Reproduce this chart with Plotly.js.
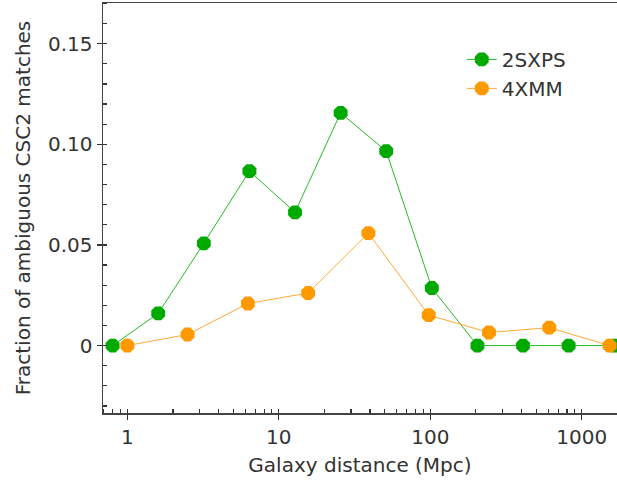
<!DOCTYPE html>
<html>
<head>
<meta charset="utf-8">
<script src="https://cdn.plot.ly/plotly-3.0.1.min.js"></script>
<style>html,body{margin:0;padding:0;background:#fff;}#chart{width:617px;height:483px;}</style>
</head>
<body>
<div id="chart"></div>
<script>
// Data
const sxpsDistance = [0.8, 1.6, 3.2, 6.4, 12.8, 25.6, 51.2, 102.4, 204.8, 409.6, 819.2, 1638.4];
const sxpsFraction = [0.0, 0.016, 0.0508, 0.0867, 0.0662, 0.1156, 0.0966, 0.0286, 0.0, 0.0, 0.0, 0.0];
const xmmDistance = [1.0, 2.5, 6.25, 15.625, 39.06, 97.66, 244.1, 610.4, 1525.9];
const xmmFraction = [0.0, 0.0055, 0.0209, 0.0261, 0.0559, 0.0151, 0.0065, 0.0089, 0.0];
const seriesNames = ['2SXPS', '4XMM'];
const xTickVals = [1, 10, 100, 1000];
const xTickText = ['1', '10', '100', '1000'];
const yTickVals = [0, 0.05, 0.10, 0.15];
const yTickText = ['0', '0.05', '0.10', '0.15'];

const FONT = 'DejaVu Sans, sans-serif';
const FS = 20;
const traces = [
  {
    x: sxpsDistance, y: sxpsFraction, name: seriesNames[0], type: 'scatter', mode: 'lines+markers',
    legendgroup: 'a',
    line: {color: '#22bb22', width: 1},
    marker: {color: '#00aa00', size: 15, symbol: 'octagon', line: {width: 0}}
  },
  {
    x: xmmDistance, y: xmmFraction, name: seriesNames[1], type: 'scatter', mode: 'lines+markers',
    legendgroup: 'b',
    line: {color: '#ffaa33', width: 1},
    marker: {color: '#ff9900', size: 15, symbol: 'octagon', line: {width: 0}}
  }
];

const layout = {
  width: 617, height: 483,
  margin: {l: 103, r: 0, t: 3, b: 70},
  paper_bgcolor: '#fff', plot_bgcolor: '#fff',
  font: {family: FONT, size: FS, color: '#333'},
  showlegend: true,
  legend: {
    x: 0.698, y: 0.91, xanchor: 'left', yanchor: 'top',
    bgcolor: 'rgba(0,0,0,0)', font: {family: FONT, size: FS, color: '#333'},
    traceorder: 'grouped', tracegroupgap: 0
  },
  xaxis: {
    type: 'log',
    range: [-0.1604, 3.2326],
    tickvals: xTickVals, ticktext: xTickText,
    ticks: 'outside', ticklen: 5, tickwidth: 1.2, tickcolor: '#333',
    minor: {ticks: 'inside', ticklen: 4, tickcolor: '#333', dtick: 'D1', showgrid: false},
    showline: true, linecolor: '#444', linewidth: 1.5, mirror: true,
    showgrid: false, zeroline: false,
    tickfont: {family: FONT, size: FS, color: '#333'},
    title: {text: 'Galaxy distance (Mpc)', font: {family: FONT, size: FS, color: '#333'}, standoff: 10}
  },
  yaxis: {
    range: [-0.0335, 0.1702],
    tickvals: yTickVals, ticktext: yTickText,
    ticks: 'outside', ticklen: 5, tickwidth: 1.2, tickcolor: '#333',
    minor: {ticks: 'inside', ticklen: 4, tickcolor: '#333', dtick: 0.01, showgrid: false},
    showline: true, linecolor: '#444', linewidth: 1.5, mirror: false,
    showgrid: false, zeroline: false,
    tickfont: {family: FONT, size: FS, color: '#333'},
    title: {text: 'Fraction of ambiguous CSC2 matches', font: {family: FONT, size: FS, color: '#333'}, standoff: 12}
  }
};

Plotly.newPlot('chart', traces, layout, {displayModeBar: false, staticPlot: true});
</script>
</body>
</html>
